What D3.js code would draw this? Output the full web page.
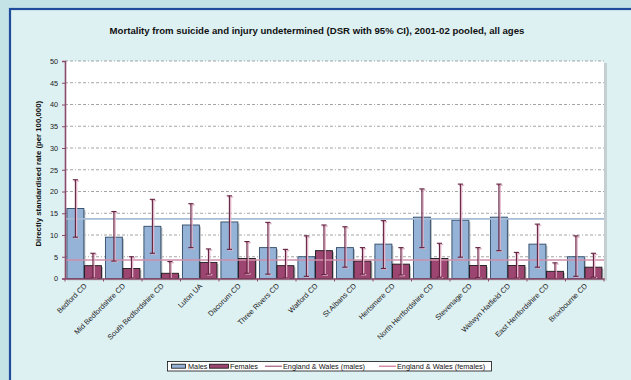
<!DOCTYPE html>
<html>
<head>
<meta charset="utf-8">
<script src="https://cdn.jsdelivr.net/npm/d3@7"></script>
<style>
  html, body { margin: 0; padding: 0; background: #c3e3e7; }
  svg { display: block; font-family: "Liberation Sans", Arial, sans-serif; }
</style>
</head>
<body>
<svg id="chart" width="631" height="380"></svg>
<script>
// Districts and directly standardised rates (per 100,000), 2001-02 pooled
const districts = ["Bedford CD", "Mid Bedfordshire CD", "South Bedfordshire CD", "Luton UA",
  "Dacorum CD", "Three Rivers CD", "Watford CD", "St Albans CD", "Hertsmere CD",
  "North Hertfordshire CD", "Stevenage CD", "Welwyn Hatfield CD", "East Hertfordshire CD",
  "Broxbourne CD"];
const malesRate   = [16.1, 9.5, 12.0, 12.3, 13.0, 7.1, 5.0, 7.1, 7.9, 14.1, 13.4, 14.1, 7.9, 5.0];
const malesLower  = [9.5, 4.0, 5.8, 7.1, 6.7, 1.0, 0.5, 2.6, 2.3, 7.1, 4.9, 6.4, 2.6, 0.5];
const malesUpper  = [22.7, 15.4, 18.2, 17.2, 19.0, 12.9, 9.8, 11.9, 13.3, 20.6, 21.7, 21.7, 12.5, 9.8];
const femalesRate  = [2.95, 2.3, 1.2, 3.7, 4.6, 2.95, 6.4, 4.0, 3.3, 4.6, 3.0, 3.0, 1.65, 2.6];
const femalesLower = [0.1, 0.1, 0.0, 1.0, 1.2, 0.1, 0.9, 1.0, 0.8, 0.3, 0.2, 0.1, 0.0, 0.3];
const femalesUpper = [5.8, 5.0, 3.9, 6.8, 8.5, 6.7, 12.3, 7.1, 7.1, 8.1, 7.1, 6.0, 3.6, 5.8];
const ewMales = 13.7;
const ewFemales = 4.25;
const yTicks = [0, 5, 10, 15, 20, 25, 30, 35, 40, 45, 50];

const title = "Mortality from suicide and injury undetermined (DSR with 95% CI), 2001-02 pooled, all ages";
const yTitle = "Directly standardised rate (per 100,000)";

const colMale = "#95b3d7", colFemale = "#9c4570";
const colErr = "#62203f", colErrShadow = "#e0b3c6";
const colEwMale = "#a7bcd6", colEwFemale = "#cf8fab";

const svg = d3.select("#chart");

// panel behind the chart
svg.append("rect").attr("x", 10).attr("y", 9).attr("width", 640).attr("height", 400)
  .attr("fill", "#ddf0f2").attr("stroke", "#1f4d9b").attr("stroke-width", 2.2);

const plotL = 65, plotR = 604, plotT = 61, plotB = 278.5;

const x = d3.scaleBand().domain(districts).range([plotL, plotR]).paddingInner(0).paddingOuter(0);
const y = d3.scaleLinear().domain([0, 50]).range([plotB, plotT]);

// plot area with a soft shadow
svg.append("rect").attr("x", plotL + 2).attr("y", plotT + 2).attr("width", plotR - plotL + 1)
  .attr("height", plotB - plotT).attr("fill", "#c4cfd2");
svg.append("rect").attr("x", plotL).attr("y", plotT).attr("width", plotR - plotL)
  .attr("height", plotB - plotT).attr("fill", "#ffffff");

// gridlines
svg.append("g").selectAll("line").data(yTicks.filter(d => d > 0)).join("line")
  .attr("x1", plotL).attr("x2", plotR)
  .attr("y1", d => y(d)).attr("y2", d => y(d))
  .attr("stroke", "#9a9a9a").attr("stroke-width", 0.9)
  .attr("stroke-dasharray", "3,2,3,2,1,2");

// title
svg.append("text").attr("x", 317).attr("y", 34).attr("text-anchor", "middle")
  .attr("font-size", 9.6).attr("font-weight", "bold").attr("fill", "#111").text(title);

// y title
svg.append("text").attr("transform", `translate(41,${(plotT + plotB) / 2 + 4}) rotate(-90)`)
  .attr("text-anchor", "middle").attr("font-size", 7.8).attr("font-weight", "bold")
  .attr("fill", "#111").text(yTitle);

const rows = districts.map((d, i) => ({
  d, m: malesRate[i], ml: malesLower[i], mu: malesUpper[i],
  f: femalesRate[i], fl: femalesLower[i], fu: femalesUpper[i]
}));

const bw = x.bandwidth();
const barW = bw * 0.44;
const mx = d => x(d) + bw * 0.05;
const fx = d => x(d) + bw * 0.05 + barW + 0.6;

// bar shadows
const gBars = svg.append("g");
gBars.selectAll("rect.ms").data(rows).join("rect")
  .attr("x", r => mx(r.d) + 1.5).attr("y", r => y(r.m) + 1.5)
  .attr("width", barW).attr("height", r => plotB - y(r.m) - 1.5).attr("fill", "#b9bcbf");
gBars.selectAll("rect.fs").data(rows).join("rect")
  .attr("x", r => fx(r.d) + 1.5).attr("y", r => y(r.f) + 1.5)
  .attr("width", barW).attr("height", r => plotB - y(r.f) - 1.5).attr("fill", "#b9bcbf");
// bars
gBars.selectAll("rect.m").data(rows).join("rect")
  .attr("x", r => mx(r.d)).attr("y", r => y(r.m))
  .attr("width", barW).attr("height", r => plotB - y(r.m))
  .attr("fill", colMale).attr("stroke", "#2f4a66").attr("stroke-width", 0.9);
gBars.selectAll("rect.f").data(rows).join("rect")
  .attr("x", r => fx(r.d)).attr("y", r => y(r.f))
  .attr("width", barW).attr("height", r => plotB - y(r.f))
  .attr("fill", colFemale).attr("stroke", "#1a1a1a").attr("stroke-width", 0.9);

// England & Wales reference lines
svg.append("line").attr("x1", plotL).attr("x2", plotR)
  .attr("y1", y(ewMales)).attr("y2", y(ewMales))
  .attr("stroke", colEwMale).attr("stroke-width", 1.6);
svg.append("line").attr("x1", plotL).attr("x2", plotR)
  .attr("y1", y(ewFemales)).attr("y2", y(ewFemales))
  .attr("stroke", colEwFemale).attr("stroke-width", 1.6);

// confidence intervals
function errorBars(cx, lo, hi) {
  const g = svg.append("g");
  const cap = 2.6;
  [[1.2, colErrShadow, 1.4], [0, colErr, 1.1]].forEach(([off, col, sw]) => {
    g.selectAll(null).data(rows).join("line")
      .attr("x1", r => cx(r) + off).attr("x2", r => cx(r) + off)
      .attr("y1", r => y(hi(r)) + off).attr("y2", r => y(lo(r)))
      .attr("stroke", col).attr("stroke-width", sw);
    g.selectAll(null).data(rows).join("line")
      .attr("x1", r => cx(r) - cap + off).attr("x2", r => cx(r) + cap + off)
      .attr("y1", r => y(hi(r)) + off).attr("y2", r => y(hi(r)) + off)
      .attr("stroke", col).attr("stroke-width", sw);
    g.selectAll(null).data(rows).join("line")
      .attr("x1", r => cx(r) - cap + off).attr("x2", r => cx(r) + cap + off)
      .attr("y1", r => y(lo(r)) + off * 0.5).attr("y2", r => y(lo(r)) + off * 0.5)
      .attr("stroke", col).attr("stroke-width", sw);
  });
}
errorBars(r => mx(r.d) + barW / 2, r => r.ml, r => r.mu);
errorBars(r => fx(r.d) + barW / 2, r => r.fl, r => r.fu);

// axes
const axisCol = "#8c4a6a";
const yAxis = svg.append("g").attr("transform", `translate(${plotL},0)`)
  .call(d3.axisLeft(y).tickValues(yTicks).tickSize(3).tickPadding(4));
yAxis.select(".domain").attr("stroke", axisCol).attr("stroke-width", 1.6);
yAxis.selectAll(".tick line").attr("stroke", axisCol);
yAxis.selectAll(".tick text").attr("font-size", 7.3).attr("fill", "#222")
  .attr("font-family", "'Liberation Sans', Arial, sans-serif");

const xAxis = svg.append("g").attr("transform", `translate(0,${plotB})`)
  .call(d3.axisBottom(x).tickSize(0).tickFormat(() => ""));
xAxis.select(".domain").attr("stroke", axisCol).attr("stroke-width", 1.6);
// boundary ticks between districts
svg.append("g").selectAll("line").data(districts.concat(["end"])).join("line")
  .attr("x1", (d, i) => plotL + i * bw).attr("x2", (d, i) => plotL + i * bw)
  .attr("y1", plotB).attr("y2", plotB + 3)
  .attr("stroke", axisCol).attr("stroke-width", 1);

// rotated district labels
svg.append("g").selectAll("text").data(districts).join("text")
  .attr("transform", d => `translate(${x(d) + bw / 2 + 3},${plotB + 8}) rotate(-45)`)
  .attr("text-anchor", "end").attr("font-size", 7.4).attr("fill", "#222").text(d => d);

// legend
const lg = svg.append("g");
const fs = 7.3;
lg.append("rect").attr("x", 167.5).attr("y", 361.5).attr("width", 324).attr("height", 9.5)
  .attr("fill", "#ffffff").attr("stroke", "#111").attr("stroke-width", 0.8);
const ly = 366.2;
lg.append("rect").attr("x", 171.5).attr("y", ly - 2).attr("width", 14).attr("height", 4)
  .attr("fill", colMale).attr("stroke", "#111").attr("stroke-width", 0.8);
lg.append("text").attr("x", 188).attr("y", ly + 2.6).attr("font-size", fs).attr("fill", "#111").text("Males");
lg.append("rect").attr("x", 209.5).attr("y", ly - 2).attr("width", 19).attr("height", 4)
  .attr("fill", colFemale).attr("stroke", "#111").attr("stroke-width", 0.8);
lg.append("text").attr("x", 230).attr("y", ly + 2.6).attr("font-size", fs).attr("fill", "#111").text("Females");
lg.append("line").attr("x1", 265).attr("x2", 282).attr("y1", ly).attr("y2", ly)
  .attr("stroke", "#8a3a62").attr("stroke-width", 1);
lg.append("text").attr("x", 283).attr("y", ly + 2.6).attr("font-size", fs).attr("fill", "#111").text("England & Wales (males)");
lg.append("line").attr("x1", 379).attr("x2", 396).attr("y1", ly).attr("y2", ly)
  .attr("stroke", "#c2557f").attr("stroke-width", 1);
lg.append("text").attr("x", 397).attr("y", ly + 2.6).attr("font-size", fs).attr("fill", "#111").text("England & Wales (females)");
</script>
</body>
</html>
